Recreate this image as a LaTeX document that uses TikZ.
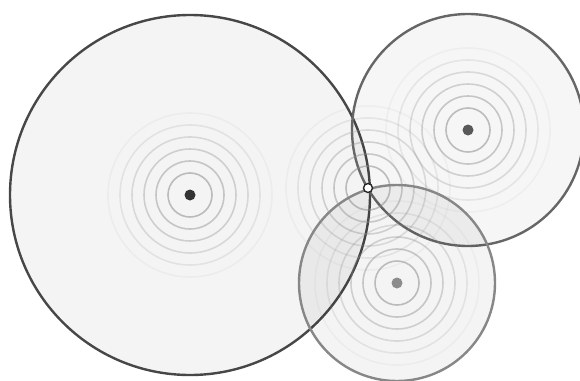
\documentclass[tikz,border=0pt]{standalone}
\tikzstyle{zone} = [circle, draw, line width=2.4pt, fill=black, fill opacity=0.045, inner sep=0pt]
\tikzstyle{station} = [circle, fill, inner sep=0pt, minimum size=11pt]
\tikzstyle{wave} = [line width=1.6pt]
\tikzstyle{fix} = [circle, draw=black!85, fill=white, line width=1.4pt, inner sep=0pt, minimum size=9pt]

\begin{document}
\begin{tikzpicture}[x=1pt, y=-1pt]
\useasboundingbox (0,0) rectangle (580,380);
\coordinate (cross) at (368,188);
%begin zones
\node[zone, draw=black!72, minimum size=360pt] (big) at (190,195) {};
\node[zone, draw=black!60, fill opacity=0.035, minimum size=232pt] (upper) at (468,130) {};
\node[zone, draw=black!47, minimum size=196pt] (lower) at (397,283) {};
%end zones
%begin waves
\foreach \s in {big, upper, lower, cross}
    \foreach \r/\o in {22/0.55, 34/0.45, 46/0.36, 58/0.27, 70/0.17, 82/0.08}
        \draw[wave, black!45, draw opacity=\o] (\s) circle (\r pt);
%end waves
%begin stations
\node[station, black!80] (bigdot) at (big.center) {};
\node[station, black!65] (upperdot) at (upper.center) {};
\node[station, black!45] (lowerdot) at (lower.center) {};
%end stations
%begin fix
\node[fix] (fix) at (cross) {};
%end fix
\end{tikzpicture}
\end{document}
